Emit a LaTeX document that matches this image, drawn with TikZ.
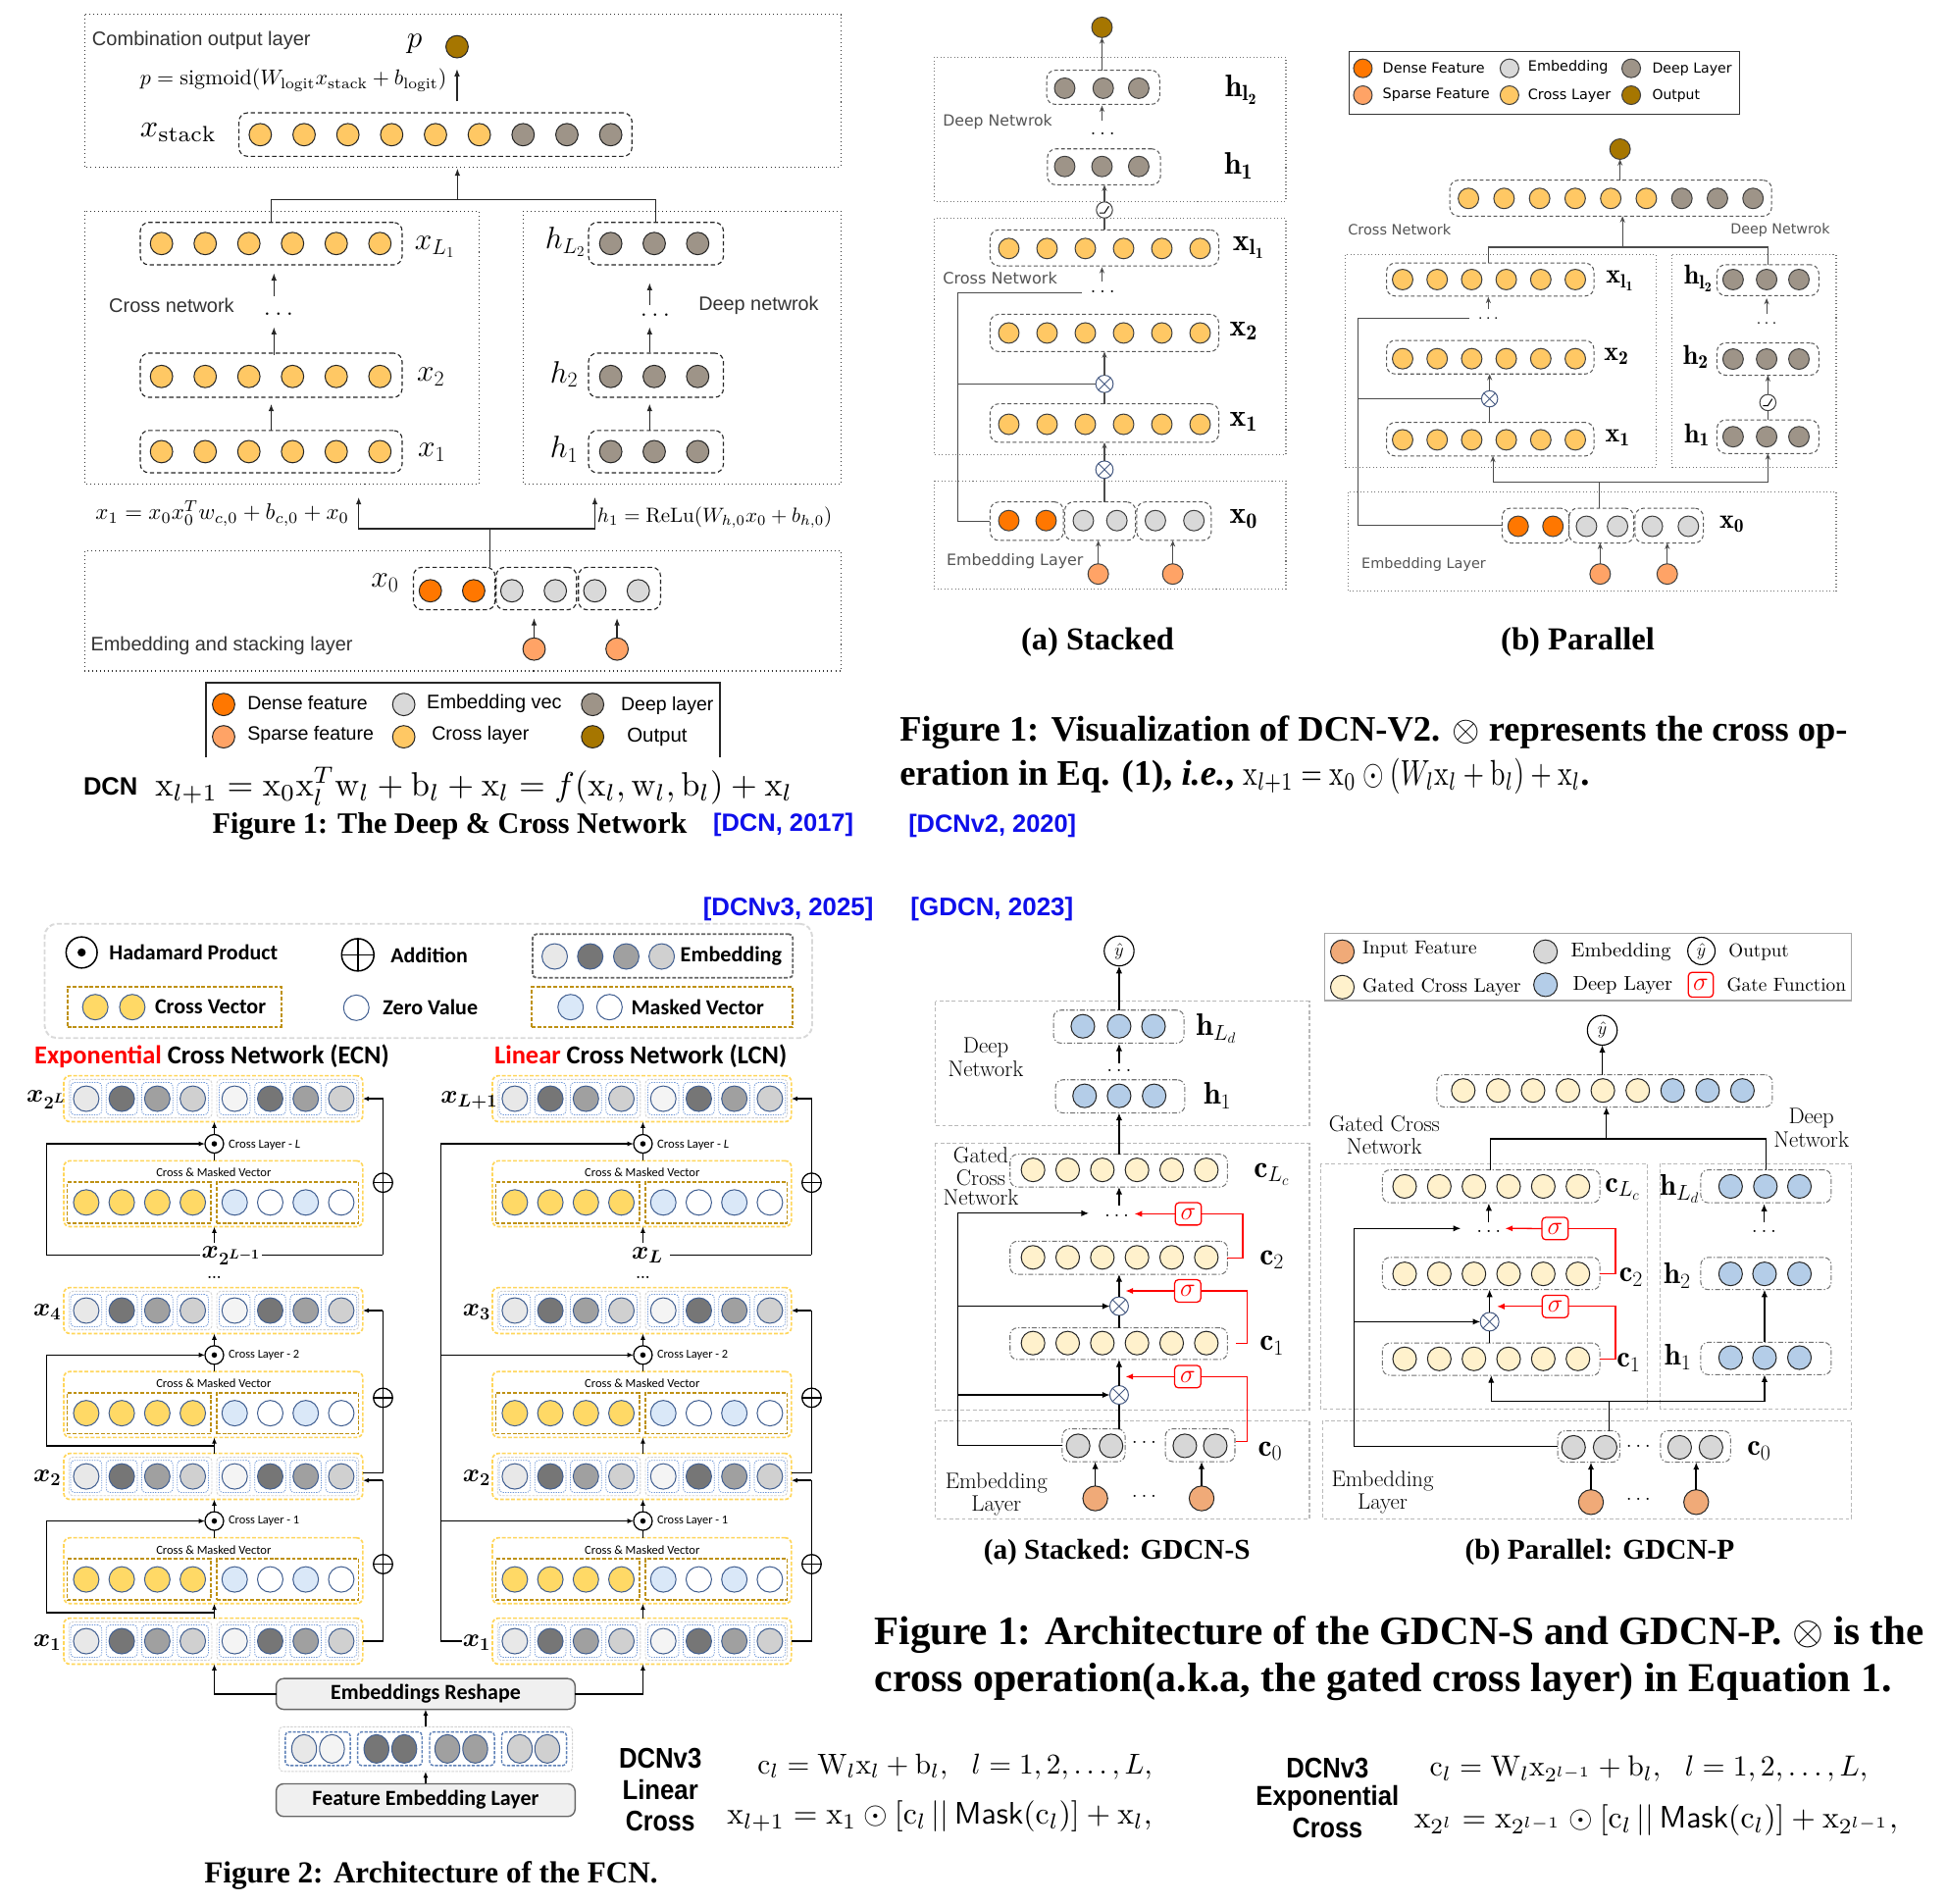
\documentclass[tikz,border=0pt]{standalone}
\usepackage{fontspec}
\usepackage{amsmath,amssymb,graphicx}
\usetikzlibrary{arrows.meta,shapes.geometric,calc}
\newfontfamily\lsans{Liberation Sans}
\newfontfamily\dvs{DejaVu Sans}
\newfontfamily\carl{Carlito}
\newfontfamily\tser{Liberation Serif}
\newcommand{\fw}[2]{\resizebox{#1pt}{!}{#2}}
\newcommand{\fwh}[3]{\resizebox{#1pt}{#2pt}{#3}}
\definecolor{cDen}{RGB}{255,119,0}
\definecolor{cSpa}{RGB}{255,163,102}
\definecolor{cEmb}{RGB}{217,217,217}
\definecolor{cCro}{RGB}{255,200,100}
\definecolor{cDee}{RGB}{158,148,136}
\definecolor{cOut}{RGB}{166,118,0}
\definecolor{gCre}{RGB}{255,241,204}
\definecolor{gBlu}{RGB}{180,205,232}
\definecolor{gEmb}{RGB}{215,215,215}
\definecolor{gInp}{RGB}{240,170,120}
\definecolor{fGold}{RGB}{255,217,102}
\definecolor{fMsk}{RGB}{218,232,248}
\definecolor{fE1}{RGB}{232,232,232}
\definecolor{fE2}{RGB}{118,118,118}
\definecolor{fE3}{RGB}{160,160,160}
\definecolor{fE4}{RGB}{208,208,208}
\definecolor{fE5}{RGB}{244,244,244}
\definecolor{fLine}{RGB}{65,95,145}
\definecolor{fYel}{RGB}{255,214,90}
\definecolor{fDGold}{RGB}{190,145,20}
\definecolor{fBlu}{RGB}{110,150,215}
\definecolor{refBlue}{RGB}{15,15,235}
\definecolor{txtGray}{RGB}{85,85,85}
\definecolor{otBlue}{RGB}{70,90,130}
\tikzset{
  every node/.style={inner sep=0pt, outer sep=0pt},
  ccA/.style={circle, draw=black!85, line width=0.8pt, minimum size=18pt},
  ccB/.style={circle, draw=black!75, line width=0.8pt, minimum size=16.5pt},
  ccG/.style={circle, draw=black!85, line width=0.8pt, minimum size=19pt},
  ccF/.style={circle, draw=fLine, line width=0.8pt, minimum size=20.5pt},
  ccE/.style={ellipse, draw=fLine, line width=0.8pt, minimum width=20pt, minimum height=23pt},
  rowA/.style={draw=black!85, dash pattern=on 3.5pt off 2.2pt, rounded corners=7pt, line width=0.9pt},
  rowB/.style={draw=black!65, dash pattern=on 3pt off 2pt, rounded corners=7pt, line width=0.8pt},
  rowG/.style={draw=gray!90!black, dash pattern=on 4pt off 1.6pt on 1pt off 1.6pt, rounded corners=6pt, line width=0.8pt},
  dotA/.style={draw=black!80, dash pattern=on 0.8pt off 2.4pt, line width=0.9pt},
  dotB/.style={draw=black!55, dash pattern=on 0.8pt off 2pt, line width=0.9pt},
  boxG/.style={draw=gray!55, dash pattern=on 3pt off 2pt, line width=0.8pt},
  lnA/.style={draw=black!85, line width=1pt},
  arA/.style={lnA, -{Latex[length=6pt,width=4.5pt]}},
  lnB/.style={draw=black!70, line width=0.9pt},
  arB/.style={lnB, -{Stealth[length=5pt,width=4pt]}},
  lnG/.style={draw=black, line width=0.9pt},
  arG/.style={lnG, -{Latex[length=6pt,width=5pt]}},
  redL/.style={draw=red, line width=1pt},
  redA/.style={redL, -{Latex[length=6pt,width=5pt]}},
  sig/.style={draw=red, fill=white, rounded corners=3pt, line width=1pt, minimum width=21pt, minimum height=18pt, text=red, font=\fontsize{22}{22}\selectfont},
  fY/.style={draw=fYel, dash pattern=on 3pt off 1.5pt, rounded corners=5pt, line width=1.3pt},
  fG/.style={draw=gray!35, dash pattern=on 2pt off 1pt, rounded corners=3pt, line width=0.7pt},
  fQ/.style={draw=fBlu, dash pattern=on 1pt off 1pt, rounded corners=3pt, line width=0.6pt, minimum width=25pt, minimum height=26pt},
  fD/.style={draw=fDGold, dash pattern=on 3pt off 1.5pt, line width=1.3pt},
  fB/.style={draw=fBlu!85!black, dash pattern=on 2.5pt off 1.2pt, rounded corners=3pt, line width=1.1pt},
  fLn/.style={draw=black, line width=1.1pt},
  fAr/.style={fLn, -{Latex[length=5pt,width=4pt]}},
  gtx/.style={font=\fontsize{18}{18}\selectfont},
  flb/.style={font=\fontsize{22}{22}\selectfont},
}
\newcommand{\relu}[1]{\draw[line width=0.8pt] ($(#1)+(-4,2.5)$) -- ($(#1)+(0,2.5)$) -- ($(#1)+(3.5,-3)$);}
\newcommand{\otim}[4]{%
  \node[circle, draw=otBlue, fill=white, line width=0.8pt, minimum size=#4pt] (#1) at (#2,#3) {};
  \draw[line width=0.7pt, otBlue] (#1.north east) -- (#1.south west) (#1.north west) -- (#1.south east);}
\newcommand{\hada}[3]{%
  \node[circle, draw=black, fill=white, line width=1pt, minimum size=15pt] (#1) at (#2,#3) {};
  \fill (#1.center) circle (2.2pt);}
\newcommand{\addc}[3]{%
  \node[circle, draw=black, fill=white, line width=1pt, minimum size=15.5pt] (#1) at (#2,#3) {};
  \draw[line width=1pt] (#1.north) -- (#1.south) (#1.west) -- (#1.east);}
\newcommand{\embrow}[3]{%
  \node[fY, minimum width=240.7pt, minimum height=37pt] (#1) at (171.65+#2,#3) {};
  \node[fG, minimum width=115pt, minimum height=31pt] (#1-g1) at (113+#2,#3) {};
  \node[fG, minimum width=114.2pt, minimum height=31pt] (#1-g2) at (231.6+#2,#3) {};
  \foreach \cl [count=\i from 0] in {fE1,fE2,fE3,fE4}{%
    \node[fQ] (#1-qa\i) at (69.4+28.6*\i+#2,#3) {};
    \node[ccF, fill=\cl] (#1-a\i) at (69.4+28.6*\i+#2,#3) {};}
  \foreach \cl [count=\i from 0] in {fE5,fE2,fE3,fE4}{%
    \node[fQ] (#1-qb\i) at (188.9+28.6*\i+#2,#3) {};
    \node[ccF, fill=\cl] (#1-b\i) at (188.9+28.6*\i+#2,#3) {};}
}
\newcommand{\cmbox}[3]{%
  \node[fY, minimum width=240.7pt, minimum height=53pt] (#1) at (171.65+#2,#3+26.5) {};
  \node (#1-t) at (172+#2,#3+9.5) {\fw{92.5}{\carl Cross \& Masked Vector}};
  \node[fD, minimum width=115.6pt, minimum height=33pt] (#1-g1) at (112+#2,#3+33.5) {};
  \node[fD, minimum width=114.2pt, minimum height=33pt] (#1-g2) at (231.6+#2,#3+33.5) {};
  \foreach \i in {0,...,3}{\node[ccF, fill=fGold] (#1-a\i) at (69.4+28.6*\i+#2,#3+33.5) {};}
  \foreach \cl [count=\i from 0] in {fMsk,white,fMsk,white}{\node[ccF, fill=\cl] (#1-b\i) at (188.9+28.6*\i+#2,#3+33.5) {};}
}
\newcommand{\fcncol}[2]{%
  \embrow{#1-r4}{#2}{884.3}
  \embrow{#1-r3}{#2}{1054.8}
  \embrow{#1-r2}{#2}{1188.3}
  \embrow{#1-r1}{#2}{1320.9}
  \cmbox{#1-m3}{#2}{934.3}
  \cmbox{#1-m2}{#2}{1103.9}
  \cmbox{#1-m1}{#2}{1237.7}
  \hada{#1-o3}{172.5+#2}{920.6}
  \hada{#1-o2}{172.5+#2}{1090.6}
  \hada{#1-o1}{172.5+#2}{1224.2}
  \node[anchor=west] (#1-cl3) at (184+#2,921.3) {\fw{57.8}{\carl Cross Layer - \textit{L}}};
  \node[anchor=west] (#1-cl2) at (184+#2,1090.6) {\fw{57}{\carl Cross Layer - 2}};
  \node[anchor=west] (#1-cl1) at (184+#2,1224.2) {\fw{57}{\carl Cross Layer - 1}};
  \draw[fLn] (#1-o3 |- #1-m3.north) -- (#1-o3.south);
  \draw[fAr] (#1-o3.north) -- (#1-o3 |- #1-r4.south);
  \draw[fLn] (#1-o2 |- #1-m2.north) -- (#1-o2.south);
  \draw[fAr] (#1-o2.north) -- (#1-o2 |- #1-r3.south);
  \draw[fLn] (#1-o1 |- #1-m1.north) -- (#1-o1.south);
  \draw[fAr] (#1-o1.north) -- (#1-o1 |- #1-r2.south);
  \draw[fAr] (#1-o2 |- #1-r2.north) -- (#1-o2 |- #1-m2.south);
  \draw[fAr] (#1-o1 |- #1-r1.north) -- (#1-o1 |- #1-m1.south);
  \coordinate (#1-xl) at (172.5+#2,1000);
  \draw[fAr] (#1-xl) -- (#1-o3 |- #1-m3.south);
  \node (#1-dots) at (172.5+#2,1028.5) {\fontsize{12}{12}\selectfont\textbf{...}};
  \draw[fLn] (292+#2,1185.5) -- (308.3+#2,1185.5) -- (308.3+#2,1054.8);
  \draw[fAr] (308.3+#2,1054.8) -- (#1-r3.east);
  \draw[fLn] (#1-r1.east) -- (308.3+#2,1320.9) -- (308.3+#2,1191.5);
  \draw[fAr] (308.3+#2,1191.5) -- (292+#2,1191.5);
  \draw[fAr] (308.3+#2,1010) -- (308.3+#2,884.3) -- (#1-r4.east);
  \addc{#1-p3}{308.3+#2}{951.9}
  \addc{#1-p2}{308.3+#2}{1125}
  \addc{#1-p1}{308.3+#2}{1258.9}
}
\begin{document}
\begin{tikzpicture}[x=1pt,y=-1pt]
\useasboundingbox (0,0) rectangle (1568,1532);
\fill[white] (0,0) rectangle (1568,1532);

%================ Panel A : DCN
\draw[dotA] (68,11.5) rectangle (677,134.5);
\draw[dotA] (68,170) rectangle (385.5,389.5);
\draw[dotA] (421,170) rectangle (677,389.5);
\draw[dotA] (68,443.5) rectangle (677,540);
\node[anchor=west, text=black!80] (A-comb) at (74.2,32.9) {\fw{175.8}{\lsans Combination output layer}};
\node (A-p) at (333.6,35.5) {\fontsize{28}{28}\selectfont$p$};
\node[ccA, fill=cOut] (A-out) at (367.9,37.6) {};
\node[anchor=east] (A-pf) at (359.5,64.5) {\fw{246.6}{$p=\mathrm{sigmoid}(W_{\mathrm{logit}}x_{\mathrm{stack}}+b_{\mathrm{logit}})$}};
\coordinate (A-pa) at (367.9,81.6);
\coordinate (A-pb) at (367.9,55.4);
\draw[arA] (A-pa) -- (A-pb);
\node (A-xs) at (143.7,106.6) {\fw{61.6}{$x_{\mathrm{stack}}$}};
\node[rowA, minimum width=316.3pt, minimum height=35pt] (A-stk) at (350.5,108.3) {};
\foreach \i in {0,...,5} \node[ccA, fill=cCro] (A-s\i) at (209.5+35.26*\i,108.4) {};
\foreach \i in {6,7,8} \node[ccA, fill=cDee] (A-s\i) at (209.5+35.26*\i,108.4) {};
\coordinate (A-j) at (368.2,160.5);
\coordinate (A-jt) at (368.2,135.5);
\node[rowA, minimum width=210.8pt, minimum height=34.2pt] (A-xL) at (218.3,196.1) {};
\node[rowA, minimum width=210.8pt, minimum height=35.6pt] (A-x2) at (218.3,302) {};
\node[rowA, minimum width=210.8pt, minimum height=34pt] (A-x1) at (218.3,363.5) {};
\node[rowA, minimum width=108.6pt, minimum height=34.2pt] (A-hL) at (528,196.1) {};
\node[rowA, minimum width=108.6pt, minimum height=35.6pt] (A-h2) at (528,302) {};
\node[rowA, minimum width=108.6pt, minimum height=34pt] (A-h1) at (528,363.5) {};
\draw[lnA] (A-xL.north) |- (A-j) -| (A-hL.north);
\draw[arA] (A-j) -- (A-jt);
\foreach \i in {0,...,5}{
  \node[ccA, fill=cCro] (A-xLc\i) at (130+35.16*\i,196) {};
  \node[ccA, fill=cCro] (A-x2c\i) at (130+35.16*\i,303) {};
  \node[ccA, fill=cCro] (A-x1c\i) at (130+35.16*\i,363.5) {};}
\foreach \i in {0,1,2}{
  \node[ccA, fill=cDee] (A-hLc\i) at (491.6+35*\i,196) {};
  \node[ccA, fill=cDee] (A-h2c\i) at (491.6+35*\i,303) {};
  \node[ccA, fill=cDee] (A-h1c\i) at (491.6+35*\i,363.5) {};}
\node (A-lxL) at (350,199) {\fontsize{26}{26}\selectfont$x_{L_1}$};
\node (A-lx2) at (346.8,303.5) {\fontsize{26}{26}\selectfont$x_2$};
\node (A-lx1) at (347.5,364) {\fontsize{26}{26}\selectfont$x_1$};
\node (A-lhL) at (455,194.5) {\fontsize{26}{26}\selectfont$h_{L_2}$};
\node (A-lh2) at (454.1,301.3) {\fontsize{26}{26}\selectfont$h_2$};
\node (A-lh1) at (454,361.9) {\fontsize{26}{26}\selectfont$h_1$};
\node[anchor=west, text=black!80] (A-cn) at (87.8,246) {\fw{100.7}{\lsans Cross network}};
\node[anchor=west, text=black!80] (A-dn) at (562.4,246) {\fw{96.6}{\lsans Deep netwrok}};
\node (A-dL) at (224.2,253) {\fontsize{20}{20}\selectfont$\ldots$};
\node (A-dR) at (527.3,253.5) {\fontsize{20}{20}\selectfont$\ldots$};
\draw[arA] (220.5,238.2) -- (220.5,219.8);
\draw[arA] (220.5,285.5) -- (220.5,263.2);
\draw[arA] (A-x1.north) -- (218.3,325);
\draw[arA] (522.9,245.5) -- (522.9,227.6);
\draw[arA] (522.9,283.8) -- (522.9,263.2);
\draw[arA] (522.9,346.5) -- (522.9,325);
\node[anchor=east] (A-f1) at (281,413.2) {\fw{204}{$x_1 = x_0x_0^Tw_{c,0}+b_{c,0}+x_0$}};
\node[anchor=west] (A-f2) at (480.8,416.3) {\fw{189}{$h_1 = \mathrm{ReLu}(W_{h,0}x_0+b_{h,0})$}};
\coordinate (A-jb) at (394.5,425.6);
\coordinate (A-jl) at (288.7,400);
\coordinate (A-jr) at (478.8,400);
\coordinate (A-jx) at (394.5,456.6);
\draw[lnA] (A-jx) -- (A-jb);
\draw[arA] (A-jb) -| (A-jl);
\draw[arA] (A-jb) -| (A-jr);
\node (A-lx0) at (309.8,469) {\fontsize{26}{26}\selectfont$x_0$};
\node[rowA, minimum width=65.7pt, minimum height=34.2pt] (A-x0d) at (365.65,473.7) {};
\node[rowA, minimum width=64.7pt, minimum height=34.2pt] (A-x0e1) at (431.65,473.7) {};
\node[rowA, minimum width=66.1pt, minimum height=34.2pt] (A-x0e2) at (498.65,473.7) {};
\foreach \x [count=\i] in {346.4,381.3} \node[ccA, fill=cDen] (A-d\i) at (\x,475.5) {};
\foreach \x [count=\i] in {412,447,478.8,513.8} \node[ccA, fill=cEmb] (A-e\i) at (\x,475.5) {};
\node[ccA, fill=cSpa] (A-sp1) at (429.9,522.4) {};
\node[ccA, fill=cSpa] (A-sp2) at (496.7,522.4) {};
\draw[arA] (A-sp1.north) -- ++(0,-16);
\draw[arA] (A-sp2.north) -- ++(0,-16);
\node[anchor=west, text=black!80] (A-emb) at (73.1,519.8) {\fw{210.8}{\lsans Embedding and stacking layer}};
% legend
\draw[lnA] (165.8,609.3) -- (165.8,549.5) -- (579.5,549.5) -- (579.5,609.3);
\node[ccA, fill=cDen] (A-l1) at (180,567) {};
\node[ccA, fill=cEmb] (A-l2) at (325,567) {};
\node[ccA, fill=cDee] (A-l3) at (477,567) {};
\node[ccA, fill=cSpa] (A-l4) at (180,593) {};
\node[ccA, fill=cCro] (A-l5) at (325,593) {};
\node[ccA, fill=cOut] (A-l6) at (477,593) {};
\node[anchor=west] (A-lt1) at (199.2,566) {\fw{96.6}{\lsans Dense feature}};
\node[anchor=west] (A-lt2) at (343.6,566) {\fw{108.6}{\lsans Embedding vec}};
\node[anchor=west] (A-lt3) at (499.9,568) {\fw{74.4}{\lsans Deep layer}};
\node[anchor=west] (A-lt4) at (199.2,592) {\fw{101.7}{\lsans Sparse feature}};
\node[anchor=west] (A-lt5) at (347.6,592) {\fw{78.3}{\lsans Cross layer}};
\node[anchor=west] (A-lt6) at (504.7,593) {\fw{48.5}{\lsans Output}};
\node (A-dcn) at (89,633) {\fw{43.7}{\lsans\bfseries DCN}};
\node[anchor=west] (A-dcnf) at (125,633) {\fw{513}{$\mathrm{x}_{l+1} = \mathrm{x}_0\mathrm{x}_l^T\mathrm{w}_l+\mathrm{b}_l+\mathrm{x}_l = f(\mathrm{x}_l,\mathrm{w}_l,\mathrm{b}_l)+\mathrm{x}_l$}};
\node (A-cap) at (362,665) {\fw{382}{\tser\bfseries Figure 1: The Deep \& Cross Network}};
\node (A-ref) at (630.5,664) {\fw{113}{\lsans\bfseries\color{refBlue}[DCN, 2017]}};

%================ Panel B : DCN-V2 stacked
\draw[dotB] (752,46) rectangle (1035,162);
\draw[dotB] (752,176) rectangle (1035,366);
\draw[dotB] (752,387) rectangle (1035,474);
\node[ccB, fill=cOut] (B-out) at (887,22) {};
\node[rowB, minimum width=91pt, minimum height=27.5pt] (B-hL) at (888,70.3) {};
\foreach \x [count=\i] in {857,888,916.6} \node[ccB, fill=cDee] (B-hLc\i) at (\x,71) {};
\draw[arB] (B-hL.north -| B-out) -- (B-out.south);
\node (B-lhL) at (999,72) {\fontsize{25}{25}\selectfont$\mathbf{h_{l_2}}$};
\node[anchor=west, text=txtGray] (B-dn) at (759,98) {\fw{88}{\dvs Deep Netwrok}};
\node (B-d1) at (887.6,107.5) {\fontsize{16}{16}\selectfont$\ldots$};
\draw[arB] (887,97.5) -- (887,85);
\node[rowB, minimum width=91pt, minimum height=29pt] (B-h1) at (888.6,134.3) {};
\foreach \x [count=\i] in {857,887,916.6} \node[ccB, fill=cDee] (B-h1c\i) at (\x,134) {};
\node (B-lh1) at (997,133.5) {\fontsize{25}{25}\selectfont$\mathbf{h_1}$};
\node[circle, draw=black!75, fill=white, line width=0.8pt, minimum size=13pt] (B-relu) at (889,169) {};
\relu{B-relu}
\node[rowB, minimum width=184pt, minimum height=29pt] (B-xl1) at (889,199.5) {};
\foreach \i in {0,...,5} \node[ccB, fill=cCro] (B-xl1c\i) at (812+30.8*\i,200) {};
\draw[lnB] (B-xl1.north -| B-relu) -- (B-relu.south);
\draw[arB] (B-relu.north) -- (B-relu |- B-h1.south);
\node (B-lxl1) at (1005,199) {\fontsize{25}{25}\selectfont$\mathbf{x_{l_1}}$};
\node[anchor=west, text=txtGray] (B-cn) at (759,224) {\fw{92}{\dvs Cross Network}};
\draw[arB] (887,226.5) -- (887,215);
\node (B-d2) at (887.6,235) {\fontsize{16}{16}\selectfont$\ldots$};
\node[rowB, minimum width=184pt, minimum height=30pt] (B-x2) at (889,268) {};
\foreach \i in {0,...,5} \node[ccB, fill=cCro] (B-x2c\i) at (812+30.8*\i,268) {};
\node (B-lx2) at (1001,266.5) {\fontsize{25}{25}\selectfont$\mathbf{x_2}$};
\otim{B-ot1}{889}{309}{14}
\node[rowB, minimum width=184pt, minimum height=31pt] (B-x1) at (889,340.5) {};
\foreach \i in {0,...,5} \node[ccB, fill=cCro] (B-x1c\i) at (812+30.8*\i,341.5) {};
\node (B-lx1) at (1001,339.5) {\fontsize{25}{25}\selectfont$\mathbf{x_1}$};
\draw[lnB] (B-ot1 |- B-x1.north) -- (B-ot1.south);
\draw[arB] (B-ot1.north) -- (B-ot1 |- B-x2.south);
\otim{B-ot2}{889}{378}{14}
\draw[arB] (B-ot2.north) -- (B-ot2 |- B-x1.south);
\node[rowB, minimum width=59pt, minimum height=31pt] (B-x0d) at (826.5,419.5) {};
\node[rowB, minimum width=57pt, minimum height=31pt] (B-x0e1) at (885.5,419.5) {};
\node[rowB, minimum width=60pt, minimum height=31pt] (B-x0e2) at (945,419.5) {};
\foreach \x [count=\i] in {812,842} \node[ccB, fill=cDen] (B-d\i) at (\x,419) {};
\foreach \x [count=\i] in {872,899,930,961} \node[ccB, fill=cEmb] (B-e\i) at (\x,419) {};
\draw[lnB] (B-ot2 |- B-x0e1.north) -- (B-ot2.south);
\node (B-lx0) at (1001,417.5) {\fontsize{25}{25}\selectfont$\mathbf{x_0}$};
\draw[lnB] (B-x0d.west) -- (771,419.5) -- (771,236) -- (871,236);
\draw[lnB] (771,309) -- (B-ot1.west);
\node[anchor=west, text=txtGray] (B-el) at (762,452) {\fw{110}{\dvs Embedding Layer}};
\node[ccB, fill=cSpa] (B-sp1) at (884,462) {};
\node[ccB, fill=cSpa] (B-sp2) at (944,462) {};
\draw[arB] (B-sp1.north) -- (B-sp1 |- B-x0e1.south);
\draw[arB] (B-sp2.north) -- (B-sp2 |- B-x0e2.south);
\node (B-cap) at (883.5,517) {\fw{123}{\tser\bfseries (a) Stacked}};

%================ Panel C : DCN-V2 parallel
\node[draw=black!80, line width=0.9pt, minimum width=314pt, minimum height=50.5pt] (C-leg) at (1243,66.75) {};
\foreach \x/\y/\cl/\k in {1097/55/cDen/1, 1215/55/cEmb/2, 1313/55/cDee/3, 1097/76.6/cSpa/4, 1215/76.6/cCro/5, 1313/76.6/cOut/6}
  \node[ccB, minimum size=15pt, fill=\cl] (C-lc\k) at (\x,\y) {};
\node[anchor=west] (C-lt1) at (1113,55) {\fw{82}{\dvs Dense Feature}};
\node[anchor=west] (C-lt2) at (1230,54) {\fw{64.5}{\dvs Embedding}};
\node[anchor=west] (C-lt3) at (1330,56) {\fw{64}{\dvs Deep Layer}};
\node[anchor=west] (C-lt4) at (1113,76.6) {\fw{86}{\dvs Sparse Feature}};
\node[anchor=west] (C-lt5) at (1230,77) {\fw{66.6}{\dvs Cross Layer}};
\node[anchor=west] (C-lt6) at (1330,77) {\fw{38.2}{\dvs Output}};
\node[ccB, fill=cOut] (C-out) at (1304,120) {};
\node[rowB, minimum width=259pt, minimum height=29pt] (C-cat) at (1296.5,159.5) {};
\foreach \i in {0,...,5} \node[ccB, fill=cCro] (C-cc\i) at (1182+28.63*\i,159.7) {};
\foreach \i in {6,7,8} \node[ccB, fill=cDee] (C-cc\i) at (1182+28.63*\i,159.7) {};
\draw[arB] (C-cat.north -| C-out) -- (C-out.south);
\node[anchor=west, text=txtGray] (C-cn) at (1085,185) {\fw{83}{\dvs Cross Network}};
\node[anchor=west, text=txtGray] (C-dn) at (1393,185) {\fw{80}{\dvs Deep Netwrok}};
\draw[dotB] (1083,205) rectangle (1333,376);
\draw[dotB] (1346,205) rectangle (1478,376);
\coordinate (C-j) at (1306,199);
\draw[arB] (C-j) -- (C-j |- C-cat.south);
\node[rowB, minimum width=167pt, minimum height=26.5pt] (C-xl1) at (1199.5,225) {};
\foreach \i in {0,...,5} \node[ccB, fill=cCro] (C-xl1c\i) at (1129+27.8*\i,225) {};
\node (C-lxl1) at (1304,226) {\fontsize{22}{22}\selectfont$\mathbf{x_{l_1}}$};
\node[rowB, minimum width=82pt, minimum height=25pt] (C-hL) at (1423,225.5) {};
\foreach \x [count=\i] in {1395,1422,1448} \node[ccB, fill=cDee] (C-hLc\i) at (\x,225) {};
\node (C-lhL) at (1367,224) {\fontsize{22}{22}\selectfont$\mathbf{h_{l_2}}$};
\draw[lnB] (1198,211.8) |- (C-j) -| (1423,213);
\draw[arB] (1198,249) -- (1198,239);
\node (C-d1) at (1198,256) {\fontsize{15}{15}\selectfont$\ldots$};
\node[rowB, minimum width=167pt, minimum height=27pt] (C-x2) at (1199.5,287.5) {};
\foreach \i in {0,...,5} \node[ccB, fill=cCro] (C-x2c\i) at (1129+27.8*\i,288.7) {};
\node (C-lx2) at (1301,287) {\fontsize{22}{22}\selectfont$\mathbf{x_2}$};
\otim{C-ot}{1199}{321}{13}
\node[rowB, minimum width=167pt, minimum height=27pt] (C-x1) at (1199.5,353.5) {};
\foreach \i in {0,...,5} \node[ccB, fill=cCro] (C-x1c\i) at (1129+27.8*\i,354) {};
\node (C-lx1) at (1302,352) {\fontsize{22}{22}\selectfont$\mathbf{x_1}$};
\draw[lnB] (C-ot |- C-x1.north) -- (C-ot.south);
\draw[arB] (C-ot.north) -- (C-ot |- C-x2.south);
\draw[arB] (1422,253) -- (1422,240);
\node (C-d2) at (1422,260) {\fontsize{15}{15}\selectfont$\ldots$};
\node[rowB, minimum width=82pt, minimum height=26pt] (C-h2) at (1423,289) {};
\foreach \x [count=\i] in {1395,1422,1448} \node[ccB, fill=cDee] (C-h2c\i) at (\x,289) {};
\node (C-lh2) at (1365,287.5) {\fontsize{22}{22}\selectfont$\mathbf{h_2}$};
\node[circle, draw=black!75, fill=white, line width=0.8pt, minimum size=13pt] (C-relu) at (1423,324) {};
\relu{C-relu}
\node[rowB, minimum width=82pt, minimum height=27pt] (C-h1) at (1423,351.5) {};
\foreach \x [count=\i] in {1395,1422,1448} \node[ccB, fill=cDee] (C-h1c\i) at (\x,351.5) {};
\node (C-lh1) at (1366,350) {\fontsize{22}{22}\selectfont$\mathbf{h_1}$};
\draw[lnB] (C-relu |- C-h1.north) -- (C-relu.south);
\draw[arB] (C-relu.north) -- (C-relu |- C-h2.south);
\draw[dotB] (1085,396) rectangle (1478,476);
\node[rowB, minimum width=54pt, minimum height=28pt] (C-x0d) at (1236,423) {};
\node[rowB, minimum width=52pt, minimum height=28pt] (C-x0e1) at (1289,423) {};
\node[rowB, minimum width=55pt, minimum height=28pt] (C-x0e2) at (1343.5,423) {};
\foreach \x [count=\i] in {1222,1250} \node[ccB, fill=cDen] (C-d\i) at (\x,423.6) {};
\foreach \x [count=\i] in {1277,1302,1330,1359} \node[ccB, fill=cEmb] (C-e\i) at (\x,423.6) {};
\node (C-lx0) at (1394,422) {\fontsize{22}{22}\selectfont$\mathbf{x_0}$};
\coordinate (C-jb) at (1287.5,388);
\draw[lnB] (C-x0e1.north -| C-jb) -- (C-jb);
\draw[arB] (C-jb) -| (C-x1.south -| 1201.7,0);
\draw[arB] (C-jb) -| (C-h1.south);
\draw[lnB] (C-x0d.west) -- (1093,423) -- (1093,256) -- (1183,256);
\draw[lnB] (1093,321) -- (C-ot.west);
\node[anchor=west, text=txtGray] (C-el) at (1096,454) {\fw{100}{\dvs Embedding Layer}};
\node[ccB, fill=cSpa] (C-sp1) at (1288,462) {};
\node[ccB, fill=cSpa] (C-sp2) at (1342,462) {};
\draw[arB] (C-sp1.north) -- (C-sp1 |- C-x0e1.south);
\draw[arB] (C-sp2.north) -- (C-sp2 |- C-x0e2.south);
\node (C-cap) at (1270,517) {\fw{123.7}{\tser\bfseries (b) Parallel}};

%================ DCN-V2 caption and refs
\node[anchor=base west] (V2-c1) at (724.2,596.5) {\fw{762.8}{\tser\bfseries Figure 1: Visualization of DCN-V2. $\otimes$ represents the cross op-}};
\node[anchor=base west] (V2-c2) at (724.2,632) {\scalebox{2.885}{\tser\bfseries eration in Eq. (1), \textit{i.e.}, \scalebox{0.76}[1]{$\mathrm{x}_{l+1} = \mathrm{x}_0\odot(W_l\mathrm{x}_l+\mathrm{b}_l)+\mathrm{x}_l$}.}};
\node[anchor=west] (V2-ref) at (731.3,664.5) {\fw{135}{\lsans\bfseries\color{refBlue}[DCNv2, 2020]}};
\node (V3-ref) at (634.5,732) {\fw{137}{\lsans\bfseries\color{refBlue}[DCNv3, 2025]}};
\node (G-ref) at (798.5,732) {\fw{131}{\lsans\bfseries\color{refBlue}[GDCN, 2023]}};

%================ Panel E : GDCN-S
\node[circle, draw=black, line width=0.9pt, minimum size=24pt] (E-y) at (900.8,765.4) {\fontsize{15}{15}\selectfont$\hat{y}$};
\draw[boxG] (753,806) rectangle (1054,905.6);
\node[rowG, minimum width=105pt, minimum height=26.6pt] (E-hL) at (900.5,826.3) {};
\foreach \x [count=\i] in {871.6,900.8,928.5} \node[ccG, fill=gBlu] (E-hLc\i) at (\x,826) {};
\draw[arG] (E-hL.north -| E-y) -- (E-y.south);
\node (E-lhL) at (979,828) {\fontsize{25}{25}\selectfont$\mathbf{h}_{L_d}$};
\node[gtx] (E-dn1) at (793.5,843.5) {Deep};
\node[gtx] (E-dn2) at (793.5,860.7) {Network};
\node (E-d1) at (900.8,862) {\fontsize{16}{16}\selectfont$\ldots$};
\draw[arG] (900.8,856) -- (900.8,840);
\node[rowG, minimum width=104pt, minimum height=26.7pt] (E-h1) at (901.6,882.4) {};
\foreach \x [count=\i] in {873,900.8,929} \node[ccG, fill=gBlu] (E-h1c\i) at (\x,882) {};
\node (E-lh1) at (980,882) {\fontsize{25}{25}\selectfont$\mathbf{h}_1$};
\draw[boxG] (753,920) rectangle (1054,1135);
\node[gtx] (E-g1) at (789.5,930) {Gated};
\node[gtx] (E-g2) at (789.5,947.6) {Cross};
\node[gtx] (E-g3) at (789.5,964) {Network};
\node[rowG, minimum width=175pt, minimum height=26.3pt] (E-cL) at (900.5,942.2) {};
\foreach \i in {0,...,5} \node[ccG, fill=gCre] (E-cLc\i) at (831.5+27.9*\i,941.6) {};
\node (E-lcL) at (1023.7,945) {\fontsize{25}{25}\selectfont$\mathbf{c}_{L_c}$};
\draw[arG] (E-cL.north -| E-y) -- (E-h1.south -| E-y);
\draw[arG] (900.8,970.5) -- (E-cL.south -| E-y);
\node (E-d2) at (899,978.5) {\fontsize{16}{16}\selectfont$\ldots$};
\node[sig] (E-s1) at (956.5,977) {$\sigma$};
\node[rowG, minimum width=175pt, minimum height=26.6pt] (E-c2) at (900.5,1012.3) {};
\foreach \i in {0,...,5} \node[ccG, fill=gCre] (E-c2c\i) at (831.5+27.9*\i,1012) {};
\node (E-lc2) at (1023.8,1014) {\fontsize{25}{25}\selectfont$\mathbf{c}_2$};
\draw[redL] (E-c2.east) -- (1000.4,1012.3) |- (E-s1.east);
\draw[redA] (E-s1.west) -- (913.2,977);
\otim{E-ot1}{900.8}{1051.3}{15}
\draw[arG] (E-ot1.north) -- (E-ot1 |- E-c2.south);
\node[sig] (E-s2) at (956,1039) {$\sigma$};
\node[rowG, minimum width=175pt, minimum height=25.5pt] (E-c1) at (900.5,1081.5) {};
\foreach \i in {0,...,5} \node[ccG, fill=gCre] (E-c1c\i) at (831.5+27.9*\i,1081) {};
\node (E-lc1) at (1023.8,1083) {\fontsize{25}{25}\selectfont$\mathbf{c}_1$};
\draw[lnG] (E-ot1 |- E-c1.north) -- (E-ot1.south);
\draw[redL] (995,1081.3) -- (1004,1081.3) |- (E-s2.east);
\draw[redA] (E-s2.west) -- (906,1039);
\otim{E-ot2}{900.8}{1122.7}{15}
\draw[arG] (E-ot2.north) -- (E-ot2 |- E-c1.south);
\node[sig] (E-s3) at (956,1108) {$\sigma$};
\draw[redL] (995,1160.4) -- (1004,1160.4) |- (E-s3.east);
\draw[redA] (E-s3.west) -- (906,1108);
\draw[boxG] (753,1143.7) rectangle (1054,1222.5);
\node[rowG, minimum width=50.6pt, minimum height=26.4pt] (E-c0a) at (880.3,1163.2) {};
\node[rowG, minimum width=56pt, minimum height=26.4pt] (E-c0b) at (966,1163.2) {};
\foreach \x [count=\i] in {867.8,894.3,953.7,978.2} \node[ccG, fill=gEmb] (E-e\i) at (\x,1163.7) {};
\node (E-d3) at (921,1161) {\fontsize{16}{16}\selectfont$\ldots$};
\node (E-lc0) at (1022.4,1168) {\fontsize{25}{25}\selectfont$\mathbf{c}_0$};
\draw[lnG] (E-ot2 |- E-c0a.north) -- (E-ot2.south);
\draw[arG] (E-c0a.west) -| (771,976.5) -- (876.4,976.5);
\draw[arG] (771,1051.3) -- (E-ot1.west);
\draw[arG] (771,1122.7) -- (E-ot2.west);
\node[ccG, fill=gInp, minimum size=20pt] (E-i1) at (881.6,1206) {};
\node[ccG, fill=gInp, minimum size=20pt] (E-i2) at (967.2,1206) {};
\draw[arG, line width=1.3pt] (E-i1.north) -- (E-i1 |- E-c0a.south);
\draw[arG, line width=1.3pt] (E-i2.north) -- (E-i2 |- E-c0b.south);
\node (E-d4) at (921,1204) {\fontsize{16}{16}\selectfont$\ldots$};
\node[gtx] (E-el1) at (802,1194) {Embedding};
\node[gtx] (E-el2) at (802,1212) {Layer};
\node (E-cap) at (899,1249) {\fw{214.5}{\tser\bfseries (a) Stacked: GDCN-S}};

%================ Panel F : GDCN-P
\node[draw=gray!70, line width=1pt, minimum width=424pt, minimum height=53.9pt] (F-leg) at (1278,778.35) {};
\node[ccG, fill=gInp] (F-l1) at (1080.5,766) {};
\node[ccG, fill=gCre] (F-l2) at (1080.5,794.5) {};
\node[ccG, fill=gEmb] (F-l3) at (1244,766) {};
\node[ccG, fill=gBlu] (F-l4) at (1244,792.6) {};
\node[circle, draw=black, line width=0.9pt, minimum size=22pt] (F-l5) at (1369.5,765.4) {\fontsize{14}{14}\selectfont$\hat{y}$};
\node[sig, minimum width=20pt, minimum height=20pt] (F-l6) at (1369,792.6) {$\sigma$};
\node[anchor=west] (F-lt1) at (1096.8,764) {\fw{92}{Input Feature}};
\node[anchor=west] (F-lt2) at (1096.8,794.5) {\fw{127.5}{Gated Cross Layer}};
\node[anchor=west] (F-lt3) at (1264.6,766) {\fw{80.4}{Embedding}};
\node[anchor=west] (F-lt4) at (1266,793.5) {\fw{80.1}{Deep Layer}};
\node[anchor=west] (F-lt5) at (1391.5,766) {\fw{48.5}{Output}};
\node[anchor=west] (F-lt6) at (1390,792.6) {\fw{95.9}{Gate Function}};
\node[circle, draw=black, line width=0.9pt, minimum size=24pt] (F-y) at (1289.7,829.2) {\fontsize{15}{15}\selectfont$\hat{y}$};
\node[rowG, minimum width=270pt, minimum height=26pt] (F-cat) at (1291.6,878) {};
\foreach \i in {0,...,5} \node[ccG, fill=gCre] (F-cc\i) at (1177.8+28.09*\i,877.7) {};
\foreach \i in {6,7,8} \node[ccG, fill=gBlu] (F-cc\i) at (1177.8+28.09*\i,877.7) {};
\draw[arG] (F-cat.north -| F-y) -- (F-y.south);
\node[gtx] (F-gc1) at (1114.3,904.3) {Gated Cross};
\node[gtx] (F-gc2) at (1114.3,922.6) {Network};
\node[gtx] (F-dn1) at (1458,900) {Deep};
\node[gtx] (F-dn2) at (1458,917.3) {Network};
\coordinate (F-j) at (1293,916.6);
\draw[arG] (F-j) -- (F-j |- F-cat.south);
\draw[boxG] (1063,936.4) rectangle (1326,1134.2);
\draw[boxG] (1336.5,936.4) rectangle (1490.6,1134.2);
\node[rowG, minimum width=175pt, minimum height=26.5pt] (F-cL) at (1200.3,954.8) {};
\foreach \i in {0,...,5} \node[ccG, fill=gCre] (F-cLc\i) at (1130.6+27.9*\i,954.9) {};
\node (F-lcL) at (1306,957) {\fontsize{24}{24}\selectfont$\mathbf{c}_{L_c}$};
\node[rowG, minimum width=105pt, minimum height=26.5pt] (F-hL) at (1421.5,954.8) {};
\foreach \x [count=\i] in {1393,1421,1448.4} \node[ccG, fill=gBlu] (F-hLc\i) at (\x,954.9) {};
\node (F-lhL) at (1352,957) {\fontsize{24}{24}\selectfont$\mathbf{h}_{L_d}$};
\draw[lnG] (F-cL.north -| 1199.7,0) |- (F-j) -| (F-hL.north);
\draw[arG] (1198.4,983.5) -- (1198.4,968.5);
\node (F-d1) at (1198.4,991) {\fontsize{16}{16}\selectfont$\ldots$};
\node[sig] (F-s1) at (1251.7,988.8) {$\sigma$};
\node[rowG, minimum width=175pt, minimum height=26pt] (F-c2) at (1200.3,1025) {};
\foreach \i in {0,...,5} \node[ccG, fill=gCre] (F-c2c\i) at (1130.6+27.9*\i,1025.3) {};
\node (F-lc2) at (1313,1028) {\fontsize{24}{24}\selectfont$\mathbf{c}_2$};
\draw[redL] (F-c2.east) -- (1300.4,1025) |- (F-s1.east);
\draw[redA] (F-s1.west) -- (1211.6,988.7);
\node[sig] (F-s2) at (1251.9,1051.5) {$\sigma$};
\otim{F-ot}{1199}{1063.8}{15}
\draw[arG] (F-ot.north) -- (F-ot |- F-c2.south);
\node[rowG, minimum width=175pt, minimum height=26pt] (F-c1) at (1200.3,1094) {};
\foreach \i in {0,...,5} \node[ccG, fill=gCre] (F-c1c\i) at (1130.6+27.9*\i,1093.7) {};
\node (F-lc1) at (1311,1097) {\fontsize{24}{24}\selectfont$\mathbf{c}_1$};
\draw[lnG] (F-ot |- F-c1.north) -- (F-ot.south);
\draw[redL] (F-c1.east) -- (1300.4,1094) |- (F-s2.east);
\draw[redA] (F-s2.west) -- (1205,1051.5);
\draw[arG] (1420,983.5) -- (1420,969);
\node (F-d2) at (1420,991) {\fontsize{16}{16}\selectfont$\ldots$};
\node[rowG, minimum width=105pt, minimum height=26pt] (F-h2) at (1421.5,1025) {};
\foreach \x [count=\i] in {1393,1420.3,1448.4} \node[ccG, fill=gBlu] (F-h2c\i) at (\x,1025.3) {};
\node (F-lh2) at (1350,1026.5) {\fontsize{24}{24}\selectfont$\mathbf{h}_2$};
\node[rowG, minimum width=105pt, minimum height=26pt] (F-h1) at (1421.5,1093.4) {};
\foreach \x [count=\i] in {1393,1420.3,1448.4} \node[ccG, fill=gBlu] (F-h1c\i) at (\x,1092.7) {};
\node (F-lh1) at (1350.6,1092.3) {\fontsize{24}{24}\selectfont$\mathbf{h}_1$};
\draw[arG] (F-h1.north -| 1420.3,0) -- (F-h2.south -| 1420.3,0);
\draw[boxG] (1064.3,1143.5) rectangle (1490.6,1222.3);
\node[rowG, minimum width=50pt, minimum height=25.3pt] (F-c0a) at (1278.8,1164.2) {};
\node[rowG, minimum width=56.4pt, minimum height=25.3pt] (F-c0b) at (1364.8,1164.2) {};
\foreach \x [count=\i] in {1266.6,1292,1352,1377.2} \node[ccG, fill=gEmb] (F-e\i) at (\x,1164.9) {};
\node (F-d3) at (1318.8,1164) {\fontsize{16}{16}\selectfont$\ldots$};
\node (F-lc0) at (1416,1168) {\fontsize{24}{24}\selectfont$\mathbf{c}_0$};
\coordinate (F-jb) at (1295.4,1127.6);
\draw[lnG] (F-c0a.north -| F-jb) -- (F-jb);
\draw[arG] (F-jb) -| (F-c1.south);
\draw[arG] (F-jb) -| (F-h1.south -| 1420.3,0);
\draw[arG] (F-c0a.west) -| (1089.8,988.7) -- (1175.8,988.7);
\draw[arG] (1089.8,1063.8) -- (F-ot.west);
\node[ccG, fill=gInp, minimum size=20pt] (F-i1) at (1280.6,1209) {};
\node[ccG, fill=gInp, minimum size=20pt] (F-i2) at (1365.3,1209) {};
\draw[arG, line width=1.3pt] (F-i1.north) -- (F-i1 |- F-c0a.south);
\draw[arG, line width=1.3pt] (F-i2.north) -- (F-i2 |- F-c0b.south);
\node (F-d4) at (1318.8,1207) {\fontsize{16}{16}\selectfont$\ldots$};
\node[gtx] (F-el1) at (1112.9,1192.4) {Embedding};
\node[gtx] (F-el2) at (1112.9,1210.7) {Layer};
\node (F-cap) at (1287.7,1249) {\fw{217}{\tser\bfseries (b) Parallel: GDCN-P}};

%================ GDCN caption
\node[anchor=west] (G-c1) at (704,1316) {\fw{844.7}{\tser\bfseries Figure 1: Architecture of the GDCN-S and GDCN-P. $\otimes$ is the}};
\node[anchor=west] (G-c2) at (704,1354) {\fw{819}{\tser\bfseries cross operation(a.k.a, the gated cross layer) in Equation 1.}};

%================ Panel D : FCN
\node[draw=gray!30, dash pattern=on 4pt off 2pt, rounded corners=10pt, line width=1.5pt, minimum width=617.8pt, minimum height=92pt] (D-leg) at (344.8,789.5) {};
\node[circle, draw, line width=1.2pt, minimum size=25pt] (D-lh) at (65.7,766.6) {};
\fill (D-lh.center) circle (3.3pt);
\node[anchor=west] (D-lht) at (88,766.6) {\fw{135.5}{\carl\bfseries Hadamard Product}};
\node[circle, draw, line width=1.2pt, minimum size=26pt] (D-la) at (288,768.5) {};
\draw[line width=1.2pt] (D-la.north) -- (D-la.south) (D-la.west) -- (D-la.east);
\node[anchor=west] (D-lat) at (314.5,768.5) {\fw{62}{\carl\bfseries Addition}};
\node[draw=gray!80!black, dash pattern=on 3pt off 1.5pt, rounded corners=3pt, line width=1.4pt, minimum width=209.5pt, minimum height=35pt] (D-le) at (533.45,769.4) {};
\foreach \x/\cl [count=\i] in {446.5/fE1,475.1/fE2,504.1/fE3,532.6/fE4} \node[ccF, fill=\cl] (D-lec\i) at (\x,769.8) {};
\node[anchor=west] (D-let) at (547.7,769.8) {\fw{81.6}{\carl\bfseries Embedding}};
\node[fD, minimum width=172.1pt, minimum height=32.2pt] (D-lc) at (140.35,810.3) {};
\node[ccF, fill=fGold] (D-lcc1) at (76.7,810.6) {};
\node[ccF, fill=fGold] (D-lcc2) at (106.5,810.6) {};
\node[anchor=west] (D-lct) at (124.8,810.6) {\fw{89.3}{\carl\bfseries Cross Vector}};
\node[ccF, fill=white] (D-lz) at (286.8,811.1) {};
\node[anchor=west] (D-lzt) at (308.3,811.1) {\fw{76.3}{\carl\bfseries Zero Value}};
\node[fD, minimum width=210pt, minimum height=32.2pt] (D-lm) at (533,810.3) {};
\node[ccF, fill=fMsk] (D-lmc1) at (459.3,810.6) {};
\node[ccF, fill=white] (D-lmc2) at (490.6,810.6) {};
\node[anchor=west] (D-lmt) at (508.1,810.6) {\fw{106.9}{\carl\bfseries Masked Vector}};
\node[anchor=west] (D-t1) at (27.8,850) {\fw{285.4}{\carl\bfseries\textcolor{red}{Exponential} Cross Network (ECN)}};
\node[anchor=west] (D-t2) at (398,850) {\fw{235.4}{\carl\bfseries\textcolor{red}{Linear} Cross Network (LCN)}};
% ECN column
\draw[fLn] (37.3,1010) -- (308.3,1010);
\draw[fAr] (37.3,1010) -- (37.3,920.6) -- (165,920.6);
\draw[fAr] (172.5,1163.8) -- (37.3,1163.8) -- (37.3,1090.6) -- (165,1090.6);
\draw[fAr] (172.5,1298.1) -- (37.3,1298.1) -- (37.3,1224.2) -- (165,1224.2);
\fcncol{ECN}{0}
\node[flb, fill=white, inner sep=1.5pt] (ECN-lx) at (186,1011) {$\boldsymbol{x}_{\boldsymbol{2}^{\boldsymbol{L-1}}}$};
\node[flb] (ECN-l4) at (37,885.5) {$\boldsymbol{x}_{\boldsymbol{2}^{\boldsymbol{L}}}$};
\node[flb] (ECN-l3) at (38,1056) {$\boldsymbol{x}_{\boldsymbol{4}}$};
\node[flb] (ECN-l2) at (38,1189.5) {$\boldsymbol{x}_{\boldsymbol{2}}$};
\node[flb] (ECN-l1) at (38,1322) {$\boldsymbol{x}_{\boldsymbol{1}}$};
% LCN column
\draw[fLn, line width=2pt] (372,1320.9) -- (354.8,1320.9);
\draw[fLn] (354.8,1320.9) -- (354.8,920.6);
\draw[fAr] (354.8,920.6) -- (510,920.6);
\draw[fAr] (354.8,1090.6) -- (510,1090.6);
\draw[fAr] (354.8,1224.2) -- (510,1224.2);
\draw[fLn] (539.5,1010) -- (653.3,1010);
\fcncol{LCN}{345}
\node[flb] (LCN-lx) at (521,1010.5) {$\boldsymbol{x}_{\boldsymbol{L}}$};
\node[flb] (LCN-l4) at (377.6,885.5) {$\boldsymbol{x}_{\boldsymbol{L+1}}$};
\node[flb] (LCN-l3) at (383.7,1056) {$\boldsymbol{x}_{\boldsymbol{3}}$};
\node[flb] (LCN-l2) at (383.7,1189.5) {$\boldsymbol{x}_{\boldsymbol{2}}$};
\node[flb] (LCN-l1) at (383.7,1322) {$\boldsymbol{x}_{\boldsymbol{1}}$};
% bottom of FCN
\node[draw=gray!80!black, fill=gray!12, rounded corners=6pt, line width=1.1pt, minimum width=240.6pt, minimum height=24.8pt] (D-rs) at (342.6,1363.4) {\fw{153}{\carl\bfseries Embeddings Reshape}};
\draw[fAr] (D-rs.west) -| (ECN-o1 |- ECN-r1.south);
\draw[fAr] (D-rs.east) -| (LCN-o1 |- LCN-r1.south);
\node[fG, minimum width=236pt, minimum height=36pt] (D-er) at (342.75,1407.8) {};
\node[fB, minimum width=52.3pt, minimum height=27pt] (D-eb1) at (255.75,1407.5) {};
\node[fB, minimum width=51.8pt, minimum height=27pt] (D-eb2) at (313.8,1407.5) {};
\node[fB, minimum width=52.2pt, minimum height=27pt] (D-eb3) at (371.9,1407.5) {};
\node[fB, minimum width=52.2pt, minimum height=27pt] (D-eb4) at (429.9,1407.5) {};
\foreach \x/\cl [count=\i] in {244.8/fE1,267.2/fE5,303/fE2,325.4/fE2,360.1/fE3,382.5/fE3,418.4/fE4,440.5/fE4}
  \node[ccE, fill=\cl] (D-ec\i) at (\x,1407.6) {};
\draw[fAr] (D-er.north -| D-rs) -- (D-rs.south);
\node[draw=gray!80!black, fill=gray!12, rounded corners=6pt, line width=1.1pt, minimum width=240.6pt, minimum height=26.3pt] (D-fe) at (342.6,1448.85) {\fw{182.3}{\carl\bfseries Feature Embedding Layer}};
\draw[fAr] (D-fe.north) -- (D-er.south -| D-fe);
\node (D-cap) at (347,1509.5) {\fw{365}{\tser\bfseries Figure 2: Architecture of the FCN.}};

%================ DCNv3 formulas
\node (L-t1) at (531.5,1415) {\fwh{66.5}{16}{\lsans\bfseries DCNv3}};
\node (L-t2) at (531.5,1440.5) {\fwh{61}{16}{\lsans\bfseries Linear}};
\node (L-t3) at (531.5,1465.5) {\fwh{55.9}{16}{\lsans\bfseries Cross}};
\node[anchor=west] (L-f1) at (609.8,1422) {\fw{317.7}{$\mathrm{c}_l = \mathrm{W}_l\mathrm{x}_l+\mathrm{b}_l,\ \ l=1,2,\ldots,L,$}};
\node[anchor=west] (L-f2) at (585.4,1462) {\fw{342}{$\mathrm{x}_{l+1} = \mathrm{x}_1\odot[\mathrm{c}_l\,||\,\mathsf{Mask}(\mathrm{c}_l)]+\mathrm{x}_l,$}};
\node (X-t1) at (1068.5,1423.2) {\fwh{66.3}{16}{\lsans\bfseries DCNv3}};
\node (X-t2) at (1068.5,1447.5) {\fwh{115.2}{16}{\lsans\bfseries Exponential}};
\node (X-t3) at (1068.5,1471.2) {\fwh{56.5}{16}{\lsans\bfseries Cross}};
\node[anchor=west] (X-f1) at (1150.8,1424) {\fw{352.6}{$\mathrm{c}_l = \mathrm{W}_l\mathrm{x}_{2^{l-1}}+\mathrm{b}_l,\ \ l=1,2,\ldots,L,$}};
\node[anchor=west] (X-f2) at (1138.3,1465) {\fw{389.4}{$\mathrm{x}_{2^l} = \mathrm{x}_{2^{l-1}}\odot[\mathrm{c}_l\,||\,\mathsf{Mask}(\mathrm{c}_l)]+\mathrm{x}_{2^{l-1}},$}};
\end{tikzpicture}
\end{document}
